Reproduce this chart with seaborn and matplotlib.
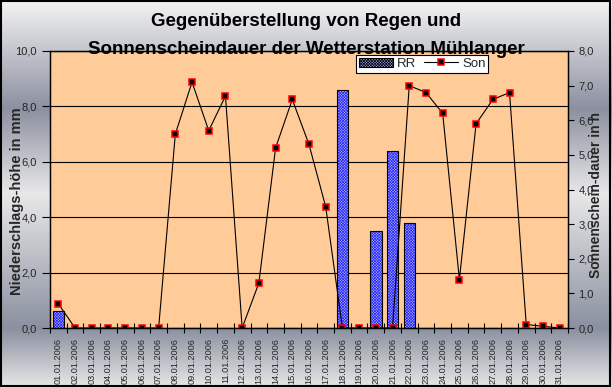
import numpy as np
import pandas as pd
import seaborn as sns
import matplotlib.pyplot as plt
from matplotlib.patches import Rectangle, Patch
from matplotlib.lines import Line2D
from matplotlib.colors import LinearSegmentedColormap
from matplotlib.ticker import FuncFormatter

# --- Daten: Januar 2006 ---
days = ['01.01.2006', '02.01.2006', '03.01.2006', '04.01.2006', '05.01.2006',
        '06.01.2006', '07.01.2006', '08.01.2006', '09.01.2006', '10.01.2006',
        '11.01.2006', '12.01.2006', '13.01.2006', '14.01.2006', '15.01.2006',
        '16.01.2006', '17.01.2006', '18.01.2006', '19.01.2006', '20.01.2006',
        '21.01.2006', '22.01.2006', '23.01.2006', '24.01.2006', '25.01.2006',
        '26.01.2006', '27.01.2006', '28.01.2006', '29.01.2006', '30.01.2006',
        '31.01.2006']
rain_mm = [0.6, 0, 0, 0, 0, 0, 0, 0, 0, 0,
           0, 0, 0, 0, 0, 0, 0, 8.6, 0, 3.5,
           6.4, 3.8, 0, 0, 0, 0, 0, 0, 0, 0,
           0]
sun_h = [0.7, 0, 0, 0, 0, 0, 0, 5.6, 7.1, 5.7,
         6.7, 0, 1.3, 5.2, 6.6, 5.3, 3.5, 0, 0, 0,
         0, 7.0, 6.8, 6.2, 1.4, 5.9, 6.6, 6.8, 0.1, 0.05,
         0]

df = pd.DataFrame({'Datum': days, 'RR': rain_mm, 'Son': sun_h})
df['pos'] = df.index

sns.set_style('ticks')
plt.rcParams['font.family'] = ['Liberation Sans', 'DejaVu Sans']
plt.rcParams['hatch.linewidth'] = 0.5

fig = plt.figure(figsize=(6.12, 3.87), dpi=100)

# Hintergrund mit Metall-Verlauf
bg = fig.add_axes([0, 0, 1, 1], zorder=-10)
cmap = LinearSegmentedColormap.from_list(
    'metal', [(0.0, '#f4f4f4'), (0.28, '#8c90a0'), (0.5, '#e8e8e8'),
              (0.85, '#8a90a0'), (1.0, '#e6e6e6')])
bg.imshow(np.linspace(0, 1, 256).reshape(-1, 1), cmap=cmap, aspect='auto',
          extent=[0, 1, 1, 0])
bg.set_axis_off()
fig.patches.append(Rectangle((0.001, 0.002), 0.996, 0.995, transform=fig.transFigure,
                             fill=False, edgecolor='black', lw=1.5))

ax = fig.add_axes([50 / 612, 1 - 328 / 387, 518 / 612, 277 / 387])
ax.set_facecolor('#ffcc99')

# Balken: Niederschlag (blau kariert)
sns.barplot(data=df, x='Datum', y='RR', ax=ax, color='#a8a8ff', width=0.68,
            edgecolor='#2828ff', linewidth=0, hatch='xxxxxxxxxxxx')
sns.barplot(data=df, x='Datum', y='RR', ax=ax, fill=False, width=0.68,
            edgecolor='black', linewidth=0.8)

ax.set_ylim(0, 10)
ax.set_yticks([0, 2, 4, 6, 8, 10])
ax.yaxis.grid(True, color='black', lw=0.8)
ax.set_axisbelow(True)
comma = FuncFormatter(lambda v, _: f'{v:.1f}'.replace('.', ','))
ax.yaxis.set_major_formatter(comma)
ax.set_xlabel('')
ax.set_ylabel('')
ax.set_xticks(np.arange(-0.5, 31, 1), minor=True)
ax.tick_params(axis='x', which='minor', direction='inout', length=7, width=0.8, color='black')
ax.tick_params(axis='x', which='major', length=0, labelsize=6.6, labelrotation=90, pad=7)
ax.tick_params(axis='y', direction='out', length=6, width=0.8, labelsize=8, color='black')
for s in ax.spines.values():
    s.set_color('black')
    s.set_linewidth(0.9)

# Linie: Sonnenscheindauer
ax2 = ax.twinx()
sns.lineplot(data=df, x='pos', y='Son', ax=ax2, color='black', lw=0.8,
             marker='s', markersize=5, markerfacecolor='black',
             markeredgecolor='red', markeredgewidth=1.1)
ax2.set_ylim(0, 8)
ax2.set_yticks(np.arange(0, 9, 1))
ax2.yaxis.set_major_formatter(comma)
ax2.set_xlim(-0.5, 30.5)
ax2.set_xlabel('')
ax2.set_ylabel('')
ax2.tick_params(axis='y', direction='out', length=4, width=0.8, labelsize=8, color='black')
for s in ax2.spines.values():
    s.set_color('black')
    s.set_linewidth(0.9)

# Titel und Achsenbeschriftungen
fig.text(0.5, 1 - 22 / 387, 'Gegenüberstellung von Regen und', ha='center', va='center',
         fontsize=13.5, fontweight='bold', color='black')
fig.text(0.5, 1 - 50 / 387, 'Sonnenscheindauer der Wetterstation Mühlanger', ha='center',
         va='center', fontsize=13.5, fontweight='bold', color='black')
fig.text(17 / 612, 1 - 201 / 387, 'Niederschlags-höhe in mm', rotation=90, ha='center',
         va='center', fontsize=10.5, fontweight='bold')
fig.text(596 / 612, 1 - 195 / 387, 'Sonnenschein-dauer in h', rotation=90, ha='center',
         va='center', fontsize=10, fontweight='bold')

handles = [Patch(facecolor='#a8a8ff', edgecolor='black', lw=0.8, hatch='xxxxxxxxxxxx'),
           Line2D([], [], color='black', lw=0.8, marker='s', markersize=5,
                  markerfacecolor='black', markeredgecolor='red', markeredgewidth=1.1)]
leg = fig.legend(handles, ['RR', 'Son'], loc='upper left',
                 bbox_to_anchor=(356 / 612, 1 - 55 / 387), ncol=2, fontsize=9.5,
                 frameon=True, fancybox=False, edgecolor='black', framealpha=1,
                 borderpad=0.2, handlelength=2.6, handletextpad=0.3,
                 columnspacing=0.6, borderaxespad=0)
leg.get_frame().set_linewidth(0.8)
leg.legend_handles[0].set_edgecolor('black')

fig.savefig('out.png', dpi=100)
